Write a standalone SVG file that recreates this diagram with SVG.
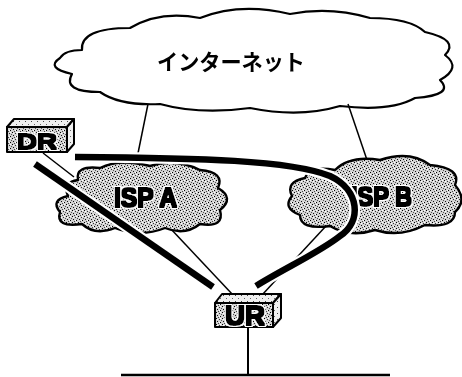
<svg xmlns="http://www.w3.org/2000/svg" width="462" height="377" viewBox="0 0 462 377">
<style>
.thin{fill:none;stroke:#000;stroke-width:1.5}
.thick{fill:none;stroke:#000;stroke-width:6.5;stroke-linecap:butt}
.casing{fill:none;stroke:#fff;stroke-width:11}
.cloudW{fill:#fff;stroke:#000;stroke-width:2.2;stroke-linejoin:round}
.cloudG{fill:url(#stip);stroke:#000;stroke-width:2.4;stroke-linejoin:round}
.box{fill:url(#stip);stroke:#000;stroke-width:2;stroke-linejoin:round}
.boxL{fill:url(#stipL);stroke:#000;stroke-width:2;stroke-linejoin:round}
.lbl{font-family:"Liberation Sans",Arial,sans-serif;font-weight:bold;fill:#000;filter:url(#heavy)}
.jp{font-family:"Noto Sans CJK JP","Noto Sans",sans-serif;font-weight:bold;font-size:22px;fill:#000;filter:url(#thick)}
</style>
<defs>
<pattern id="stip" width="6" height="6" patternUnits="userSpaceOnUse">
<rect width="6" height="6" fill="#d2d2d2"/>
<rect x="0" y="0" width="1" height="1" fill="#000"/>
<rect x="3" y="1" width="1" height="1" fill="#333"/>
<rect x="1" y="3" width="1" height="1" fill="#111"/>
<rect x="4" y="4" width="1" height="1" fill="#000"/>
<rect x="5" y="2" width="1" height="1" fill="#555"/>
<rect x="2" y="5" width="1" height="1" fill="#444"/>
<rect x="4" y="0" width="1" height="1" fill="#fff"/>
<rect x="1" y="1" width="1" height="1" fill="#fff"/>
<rect x="3" y="4" width="1" height="1" fill="#fff"/>
</pattern>
<pattern id="stipL" width="6" height="6" patternUnits="userSpaceOnUse">
<rect width="6" height="6" fill="#f0f0f0"/>
<rect x="1" y="1" width="1" height="1" fill="#444"/>
<rect x="4" y="4" width="1" height="1" fill="#666"/>
</pattern>
<filter id="heavy" x="-15%" y="-30%" width="130%" height="160%">
<feMorphology in="SourceAlpha" operator="dilate" radius="2.2" result="halo"/>
<feFlood flood-color="#fff"/>
<feComposite in2="halo" operator="in" result="white"/>
<feMorphology in="SourceAlpha" operator="dilate" radius="0.6" result="bold"/>
<feMerge><feMergeNode in="white"/><feMergeNode in="bold"/></feMerge>
</filter>
<filter id="thick" x="-5%" y="-20%" width="110%" height="140%">
<feMorphology in="SourceAlpha" operator="dilate" radius="0.2"/>
</filter>
</defs>

<g id="internet">
<path class="cloudW" d="M82,50 Q80,28 130,28 Q160,10 200,18 Q240,2 290,14 Q330,6 370,18 Q410,18 425,32 Q460,40 445,55 Q462,68 440,80 Q455,95 415,98 Q390,112 340,106 Q300,118 250,108 Q200,115 160,104 Q120,106 100,92 Q62,92 72,74 Q45,68 60,58 Q65,50 82,50 Z"/>
<text class="jp" x="157" y="70" textLength="148" lengthAdjust="spacingAndGlyphs">インターネット</text>
</g>

<g id="connectors">
<line class="thin" x1="148" y1="104" x2="135" y2="168"/>
<line class="thin" x1="348" y1="104" x2="367" y2="160"/>
<line class="thin" x1="43" y1="153" x2="74" y2="177"/>
<line class="thin" x1="170" y1="228" x2="233" y2="295"/>
<line class="thin" x1="326" y1="226" x2="262" y2="295"/>
</g>

<g id="ispA">
<path class="cloudG" d="M78,180 Q75,165 100,168 Q120,158 150,166 Q175,158 200,170 Q225,172 218,188 Q235,198 220,210 Q225,228 200,224 Q185,236 165,228 Q140,238 115,228 Q95,236 82,224 Q55,228 60,212 Q50,200 68,196 Q62,182 78,180 Z"/>
<text class="lbl" x="114" y="207" font-size="27" textLength="63" lengthAdjust="spacingAndGlyphs">ISP A</text>
</g>

<g id="ispB">
<path class="cloudG" d="M305,178 Q310,165 335,170 Q350,155 380,160 Q410,150 430,165 Q462,168 455,185 Q468,200 455,212 Q455,228 425,225 Q400,238 375,230 Q350,238 330,226 Q300,230 300,215 Q282,208 292,196 Q285,182 305,178 Z"/>
<text class="lbl" x="351" y="206" font-size="27" textLength="61" lengthAdjust="spacingAndGlyphs">ISP B</text>
</g>

<g id="paths">
<line class="casing" x1="35" y1="164" x2="213" y2="287"/>
<path class="casing" d="M75,157 C200,158 290,160 330,176 C360,190 362,222 340,236 C320,252 285,268 256,286"/>
<line class="thick" x1="35" y1="164" x2="213" y2="287"/>
<path class="thick" d="M75,157 C200,158 290,160 330,176 C360,190 362,222 340,236 C320,252 285,268 256,286"/>
</g>

<g id="DR">
<polygon class="boxL" points="7,127 14,119 74,119 67,127"/>
<polygon class="boxL" points="67,127 74,119 74,144 67,152"/>
<rect class="box" x="7" y="127" width="60" height="25"/>
<text class="lbl" x="17" y="149" font-size="22" textLength="40" lengthAdjust="spacingAndGlyphs">DR</text>
</g>

<g id="UR">
<polygon class="boxL" points="215,303 222,294 281,294 273,303"/>
<polygon class="boxL" points="273,303 281,294 281,318 273,327"/>
<rect class="box" x="215" y="303" width="58" height="24"/>
<text class="lbl" x="225" y="325" font-size="27" textLength="40" lengthAdjust="spacingAndGlyphs">UR</text>
</g>

<g id="lan">
<line x1="248" y1="327" x2="248" y2="375" stroke="#000" stroke-width="2"/>
<line x1="121" y1="375" x2="390" y2="375" stroke="#000" stroke-width="2.5"/>
</g>
</svg>
